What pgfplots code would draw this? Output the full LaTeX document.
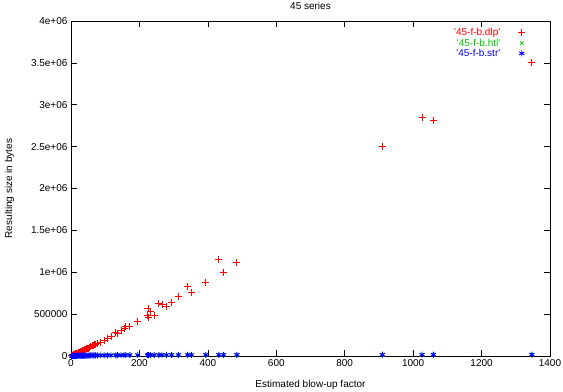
\documentclass[border=0pt]{standalone}
\usepackage{pgfplots}
\usepackage{pgfplotstable}
\pgfplotsset{compat=1.18}
\usepackage{fontspec}
\setmainfont{Liberation Sans}
\newfontfamily\plainfont{Liberation Sans}
\definecolor{gred}{RGB}{255,0,0}
\definecolor{ggreen}{RGB}{0,200,0}
\definecolor{gblue}{RGB}{0,0,255}
\pgfplotstableread{
x dlp htl str
2 4000 1200 1200
4 8000 1500 1500
6 11000 1800 1800
8 15000 2000 2000
10 19000 2200 2200
13 24000 2500 2500
16 30000 2800 2800
19 35000 3000 3000
22 40000 3200 3200
25 46000 3500 3500
28 52000 3800 3800
31 58000 4000 4000
34 62000 4200 4200
37 70000 4500 4500
40 75000 4800 4800
43 80000 5000 5000
46 85000 5200 5200
49 90000 5500 5500
52 95000 5800 5800
55 105000 6000 6000
58 110000 6200 6200
62 125000 6500 6500
65 120000 6800 6800
68 135000 7000 7000
72 140000 7200 7200
78 150000 7500 7500
87 165000 7800 7800
97 190000 8000 8000
107 206000 8200 8200
117 237000 8500 8500
131 285000 8800 8800
136 266000 9000 9000
146 310000 9200 9200
155 326000 9500 9500
160 350000 9800 9800
172 357000 10000 10000
195 414000 10200 10200
224 486000 10500 10500
225 566000 10800 10800
226 458000 11000 11000
232 530000 11200 11200
243 489000 11500 11500
257 630000 11800 11800
266 617000 12000 12000
279 594000 12200 12200
294 640000 12500 12500
314 713000 12800 12800
341 833000 13500 13000
352 753000 13200 13200
394 873000 13500 13500
432 1157000 13800 13800
446 1001000 14000 14000
485 1113000 14200 14200
910 2500000 15000 15000
1026 2850000 15500 15500
1059 2810000 16000 16000
1347 3510000 17000 17000
}\datatable
\begin{document}
\begin{tikzpicture}
\begin{axis}[
  name=ax,
  scale only axis,
  width=479pt, height=335pt,
  xmin=0, xmax=1400, ymin=0, ymax=4000000,
  xtick={0,200,400,600,800,1000,1200,1400},
  xticklabels={0,200,400,600,800,1000,1200,1400},
  ytick={0,500000,1000000,1500000,2000000,2500000,3000000,3500000,4000000},
  yticklabels={0,500000,1e+06,1.5e+06,2e+06,2.5e+06,3e+06,3.5e+06,4e+06},
  scaled ticks=false,
  tick align=inside,
  major tick length=6pt,
  tick style={black, line width=0.6pt},
  axis line style={black, line width=0.8pt},
  ticklabel style={font=\fontsize{10}{11}\selectfont},
  /pgf/number format/assume math mode=true,
  xlabel={Estimated blow-up factor},
  ylabel={Resulting size in bytes},
  xlabel style={font=\fontsize{10}{11}\selectfont, yshift=-7pt},
  ylabel style={font=\fontsize{10}{11}\selectfont, yshift=10pt},
  title={45 series},
  title style={font=\fontsize{10}{11}\selectfont, yshift=2pt},
  clip=false,
  legend plot pos=right,
  legend cell align=right,
  legend style={draw=none, fill=none, at={(rel axis cs:0.955,0.99)}, anchor=north east,
    font=\fontsize{10}{11}\selectfont, row sep=-2.5pt, column sep=16pt},
]
\addplot[only marks, mark=+, mark size=3.5pt, draw=gred, mark options={draw=gred, fill=gred}, line width=0.9pt] table[x=x,y=dlp]{\datatable};
\addlegendentry{\textcolor{gred}{\plainfont '45-f-b.dlp'}}
\addplot[only marks, mark=x, mark size=2.5pt, draw=ggreen, mark options={draw=ggreen}, line width=0.8pt] table[x=x,y=htl]{\datatable};
\addlegendentry{\textcolor{ggreen}{\plainfont '45-f-b.htl'}}
\addplot[only marks, mark=asterisk, mark size=3pt, draw=gblue, mark options={draw=gblue}, line width=0.9pt] table[x=x,y=str]{\datatable};
\addlegendentry{\textcolor{gblue}{\plainfont '45-f-b.str'}}
\end{axis}
\pgfresetboundingbox
\path[use as bounding box] ([shift={(-71pt,-35.3pt)}]ax.south west) rectangle ([shift={(13pt,21pt)}]ax.north east);
\end{tikzpicture}
\end{document}
